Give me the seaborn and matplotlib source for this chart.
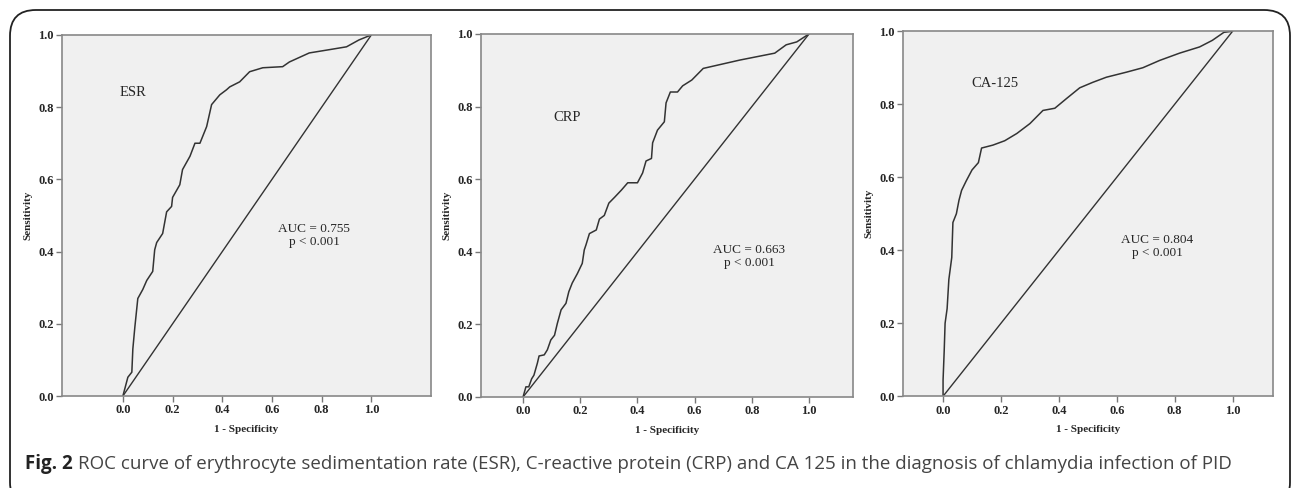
import matplotlib
matplotlib.use("Agg")
import matplotlib.pyplot as plt
from matplotlib.patches import FancyBboxPatch
import pandas as pd
import seaborn as sns

# ROC points (1 - specificity, sensitivity)
esr_fpr = [0, 0.02, 0.036, 0.04, 0.048, 0.06, 0.08, 0.096, 0.12, 0.128, 0.136, 0.16, 0.176, 0.196, 0.2,
           0.229, 0.24, 0.27, 0.29, 0.31, 0.337, 0.357, 0.39, 0.417, 0.43, 0.47, 0.51, 0.563, 0.643,
           0.67, 0.75, 0.83, 0.9, 0.95, 1.0]
esr_tpr = [0, 0.052, 0.066, 0.13, 0.19, 0.27, 0.295, 0.32, 0.345, 0.405, 0.425, 0.45, 0.51, 0.525, 0.55,
           0.585, 0.627, 0.664, 0.70, 0.70, 0.746, 0.807, 0.834, 0.848, 0.856, 0.87, 0.898, 0.909, 0.912,
           0.925, 0.95, 0.959, 0.967, 0.986, 1.0]

crp_fpr = [0, 0.01, 0.02, 0.03, 0.038, 0.05, 0.056, 0.074, 0.085, 0.097, 0.11, 0.12, 0.133, 0.15, 0.16,
           0.172, 0.19, 0.207, 0.214, 0.22, 0.232, 0.256, 0.267, 0.284, 0.30, 0.32, 0.344, 0.366, 0.40,
           0.418, 0.43, 0.449, 0.453, 0.47, 0.494, 0.50, 0.515, 0.54, 0.558, 0.59, 0.63, 0.758, 0.88,
           0.92, 0.957, 1.0]
crp_tpr = [0, 0.028, 0.028, 0.05, 0.06, 0.093, 0.113, 0.116, 0.13, 0.157, 0.17, 0.203, 0.24, 0.258, 0.29,
           0.314, 0.34, 0.368, 0.405, 0.419, 0.45, 0.46, 0.49, 0.50, 0.534, 0.55, 0.57, 0.59, 0.59,
           0.617, 0.65, 0.657, 0.70, 0.735, 0.758, 0.81, 0.84, 0.84, 0.857, 0.873, 0.905, 0.928, 0.947,
           0.97, 0.978, 1.0]

ca_fpr = [0, 0, 0.004, 0.007, 0.014, 0.02, 0.03, 0.034, 0.046, 0.055, 0.064, 0.08, 0.10, 0.122, 0.133,
          0.172, 0.213, 0.255, 0.30, 0.345, 0.386, 0.427, 0.472, 0.517, 0.564, 0.634, 0.69, 0.748,
          0.817, 0.886, 0.93, 0.97, 1.0]
ca_tpr = [0, 0.044, 0.126, 0.2, 0.24, 0.32, 0.38, 0.476, 0.50, 0.537, 0.564, 0.59, 0.62, 0.64, 0.68,
          0.688, 0.70, 0.72, 0.747, 0.783, 0.789, 0.816, 0.845, 0.86, 0.874, 0.888, 0.90, 0.92,
          0.94, 0.957, 0.975, 0.997, 1.0]

markers = ["ESR", "CRP", "CA-125"]
auc_text = ["AUC = 0.755\np < 0.001", "AUC = 0.663\np < 0.001", "AUC = 0.804\np < 0.001"]
x_ticks = [0.0, 0.2, 0.4, 0.6, 0.8, 1.0]
y_ticks = [0.0, 0.2, 0.4, 0.6, 0.8, 1.0]

curves = [(esr_fpr, esr_tpr), (crp_fpr, crp_tpr), (ca_fpr, ca_tpr)]
# layout of each panel
boxes = [(0.048, 0.1885, 0.2856, 0.740), (0.3723, 0.1865, 0.288, 0.744), (0.699, 0.188, 0.2864, 0.748)]
xlims = [(-0.245, 1.24), (-0.147, 1.154), (-0.138, 1.14)]
name_pos = [(0.04, 0.84), (0.154, 0.77), (0.18, 0.857)]
auc_pos = [(0.77, 0.445), (0.79, 0.387), (0.74, 0.41)]

sns.set_style("white")
serif = ["Liberation Serif", "DejaVu Serif"]

fig = plt.figure(figsize=(12.92, 4.88), dpi=100)
frame = FancyBboxPatch((10 / 1292, -20 / 488), 1280 / 1292, 498 / 488,
                       boxstyle="round,pad=0,rounding_size=0.02", transform=fig.transFigure,
                       facecolor="none", edgecolor="#222222", linewidth=1.3, mutation_aspect=1292 / 488)
fig.patches.append(frame)

for i, (fpr, tpr) in enumerate(curves):
    ax = fig.add_axes(boxes[i])
    ax.set_facecolor("#f0f0f0")
    df = pd.DataFrame({"fpr": fpr, "tpr": tpr})
    sns.lineplot(data=df, x="fpr", y="tpr", sort=False, estimator=None, color="#333333",
                 linewidth=1.1, ax=ax)
    sns.lineplot(x=[0, 1], y=[0, 1], color="#333333", linewidth=1.0, ax=ax)
    ax.set_xlim(*xlims[i])
    ax.set_ylim(0, 1)
    ax.set_xticks(x_ticks)
    ax.set_yticks(y_ticks)
    ax.set_xticklabels([f"{t:.1f}" for t in x_ticks], fontfamily=serif, fontweight="bold", fontsize=9)
    ax.set_yticklabels([f"{t:.1f}" for t in y_ticks], fontfamily=serif, fontweight="bold", fontsize=9)
    ax.tick_params(axis="both", length=4, width=1, color="#777777", pad=2, bottom=True, left=True)
    for s in ax.spines.values():
        s.set_color("#888888")
        s.set_linewidth(1.2)
    ax.set_xlabel("1 - Specificity", fontfamily=serif, fontweight="bold", fontsize=8, labelpad=6)
    ax.set_ylabel("Sensitivity", fontfamily=serif, fontweight="bold", fontsize=8, labelpad=4)
    ax.text(*name_pos[i], markers[i], fontfamily=serif, fontsize=10.5, ha="center", va="center")
    ax.text(*auc_pos[i], auc_text[i], fontfamily=serif, fontsize=9.5, ha="center", va="center",
            linespacing=1.15)

cap_bold = fig.text(25 / 1292, 1 - 464 / 488, "Fig. 2", fontfamily="Open Sans", fontweight="bold",
                    fontsize=13.5, color="#222222", va="center")
fig.canvas.draw()
bb = cap_bold.get_window_extent()
fig.text(bb.x1 / 1292 + 0.004, 1 - 464 / 488,
         "ROC curve of erythrocyte sedimentation rate (ESR), C-reactive protein (CRP) and CA 125 in "
         "the diagnosis of chlamydia infection of PID",
         fontfamily="Open Sans", fontsize=13.5, color="#444444", va="center")

fig.savefig("out.png", dpi=100)
